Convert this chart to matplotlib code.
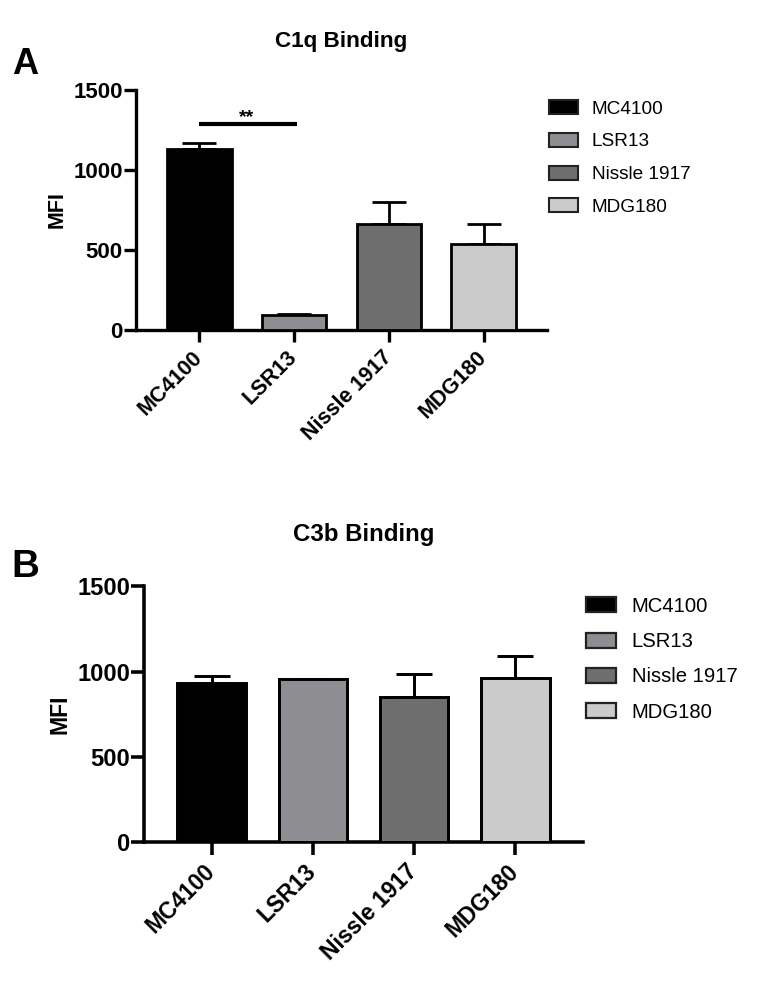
import numpy as np
import matplotlib
matplotlib.use("Agg")
import matplotlib.pyplot as plt
from matplotlib.patches import Patch

plt.rcParams['font.family'] = ['Liberation Sans', 'DejaVu Sans']

# data
strains = ["MC4100", "LSR13", "Nissle 1917", "MDG180"]
colors = ["#000000", "#8e8e92", "#6e6e6e", "#cbcbcb"]
c1q_mean = [1130, 92, 662, 537]
c1q_sem = [37, 5, 136, 125]
c3b_mean = [934, 954, 850, 962]
c3b_sem = [40, 5, 135, 128]
yticks = [0, 500, 1000, 1500]

fig = plt.figure(figsize=(7.61, 9.83), dpi=100)


def draw_panel(rect, means, sems, title, letter, title_xy, letter_xy, leg_xy, k):
    # k = scale of the panel (panel B is drawn a bit larger)
    ax = fig.add_axes(rect)
    x = np.arange(len(strains))
    ax.bar(x, means, width=0.68, color=colors, edgecolor="black", linewidth=2 * k, zorder=3)
    ax.errorbar(x, means, yerr=[np.zeros(len(sems)), sems], fmt="none",
                ecolor="black", elinewidth=2 * k, capsize=12 * k, capthick=2 * k, zorder=2)
    ax.set_xlim(-0.67, 3.67)
    ax.set_ylim(0, 1500)
    ax.set_yticks(yticks)
    ax.set_yticklabels([str(t) for t in yticks], fontsize=16 * k, fontweight="bold")
    ax.set_xticks(x)
    # va=center moves the labels up-left, the bigger pad brings them back down
    ax.set_xticklabels(strains, rotation=45, ha="right", va="center", rotation_mode="anchor",
                       fontsize=15.5 * k, fontweight="bold")
    ax.set_ylabel("MFI", fontsize=15.5 * k, fontweight="bold", labelpad=4)
    for s in ["top", "right"]:
        ax.spines[s].set_visible(False)
    for s in ["left", "bottom"]:
        ax.spines[s].set_linewidth(2.4 * k)
    ax.tick_params(width=2.4 * k, length=8.5 * k, pad=1)
    ax.tick_params(axis="x", pad=9 * k)
    fig.text(title_xy[0], title_xy[1], title, fontsize=16.2 * k, fontweight="bold",
             ha="center", va="center")
    fig.text(letter_xy[0], letter_xy[1], letter, fontsize=26 * k, fontweight="bold",
             ha="center", va="center")
    handles = [Patch(facecolor=c, edgecolor="#222222", linewidth=1.5 * k, label=s)
               for c, s in zip(colors, strains)]
    fig.legend(handles=handles, loc="upper left", bbox_to_anchor=leg_xy, frameon=False,
               fontsize=13.7 * k, handlelength=1.5, handleheight=0.75, labelspacing=0.8,
               handletextpad=0.75, borderaxespad=0, borderpad=0)
    return ax


axA = draw_panel([136 / 761, 1 - 330 / 983, 411 / 761, 240 / 983],
                 c1q_mean, c1q_sem, "C1q Binding", "A",
                 (341 / 761, 1 - 42 / 983), (25 / 761, 1 - 64 / 983),
                 (549 / 761, 1 - 100 / 983), 1.0)
axA.plot([0, 1.03], [1285, 1285], color="black", linewidth=3, solid_capstyle="butt")
axA.text(0.5, 1272, "**", ha="center", va="bottom", fontsize=14, fontweight="bold")

axB = draw_panel([144 / 761, 1 - 842.3 / 983, 439 / 761, 256 / 983],
                 c3b_mean, c3b_sem, "C3b Binding", "B",
                 (364 / 761, 1 - 534 / 983), (25 / 761, 1 - 567 / 983),
                 (586 / 761, 1 - 597 / 983), 1.067)

fig.savefig("out.png", dpi=100)
